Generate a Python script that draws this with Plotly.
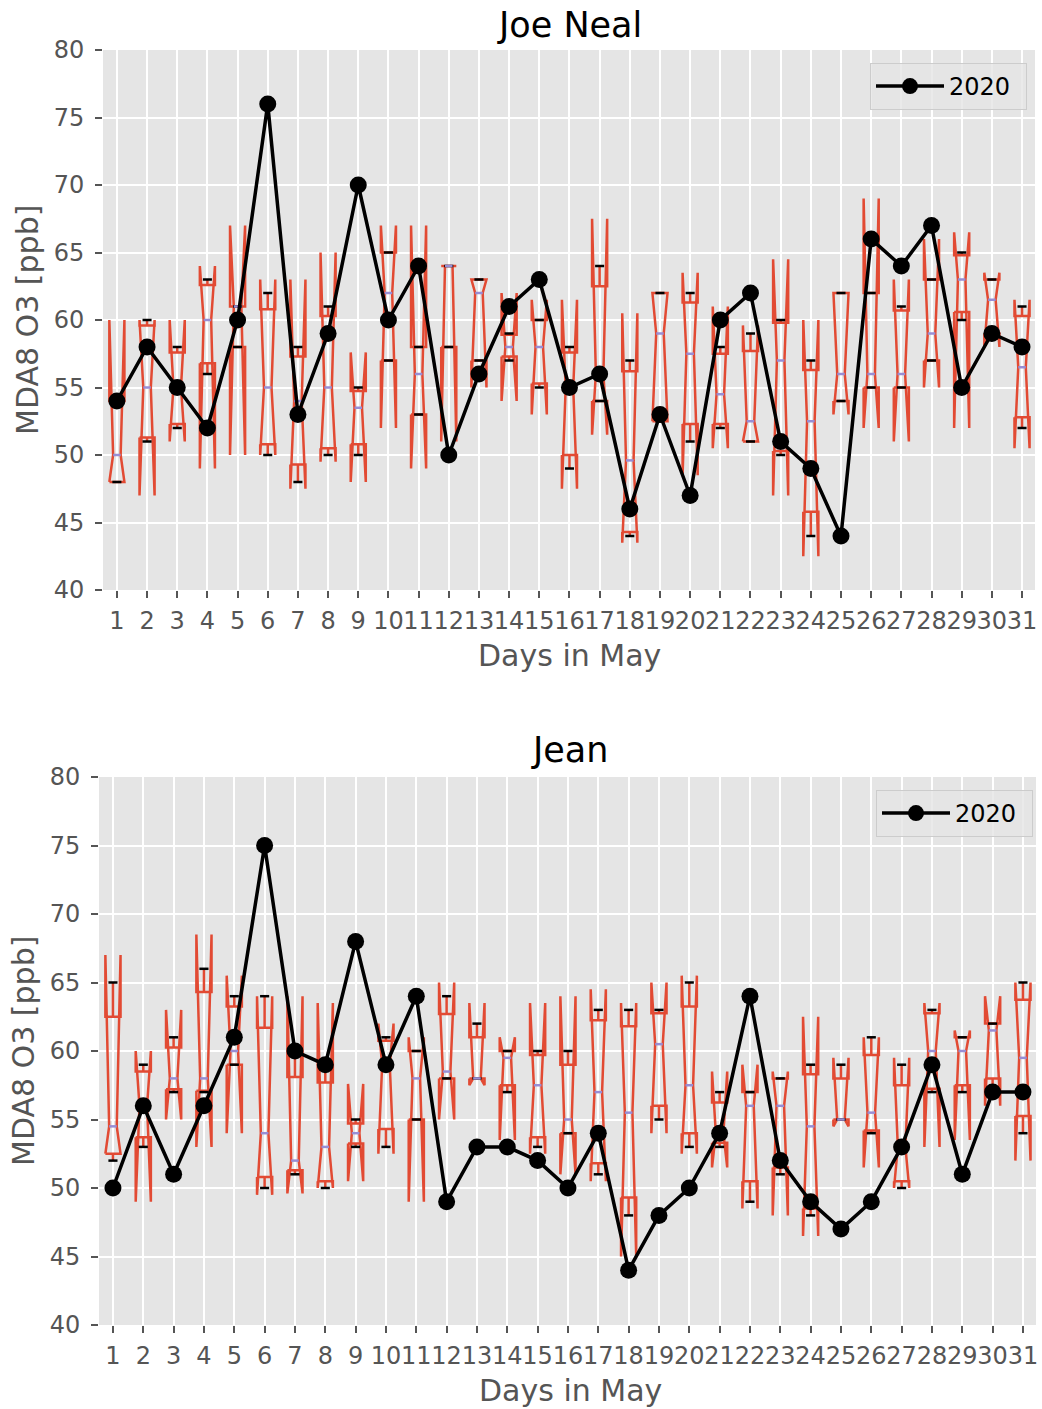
import plotly.graph_objects as go

W, H = 1042, 1409
days = list(range(1, 32))

# ---------------- Joe Neal (top panel) ----------------
jn_whislo = [48, 51, 52, 56, 58, 50, 48, 50, 50, 57, 53, 58, 57, 57, 55, 49, 54, 44, 52.5, 51, 52, 51, 50, 44, 54, 55, 55, 57, 60, 59, 52]
jn_q1     = [48, 51.3, 52.3, 56.8, 58, 50.8, 49.3, 50.5, 50.8, 57, 53, 58, 57, 57.3, 55.3, 50, 54, 44.3, 52.5, 52.3, 52.3, 51, 50.3, 45.8, 54, 55, 55, 57, 60.6, 59, 52.8]
jn_cilo   = [48, 47, 51, 49, 50, 50, 47.5, 49.5, 48, 52, 49, 51, 55, 54, 53, 47.5, 51.5, 43.5, 52.5, 48.5, 50.5, 51, 47, 42.5, 53, 52, 51, 55, 52, 58, 50.5]
jn_median = [50, 55, 55, 60, 61, 55, 54, 55, 53.5, 62, 56, 64, 62, 58, 58, 55, 56, 49.6, 59, 57.5, 54.5, 52.5, 57, 52.5, 56, 56, 56, 59, 63, 61.5, 56.5]
jn_cihi   = [60, 60, 60, 64, 67, 63, 63, 65, 57.6, 67, 67, 64, 63, 62, 61.5, 61.5, 67.5, 60.5, 62, 63.5, 61, 59.6, 64.5, 60, 62, 69, 63, 66, 66.5, 63.5, 61.5]
jn_q3     = [54, 59.6, 57.6, 62.6, 61, 60.8, 57.3, 60.3, 54.75, 65, 58, 64, 63, 58.9, 60, 57.6, 62.5, 56.2, 62, 61.3, 57.5, 57.7, 59.8, 56.3, 62, 62, 60.7, 63, 64.8, 63, 60.3]
jn_whishi = [54, 60, 58, 63, 61, 62, 58, 61, 55, 65, 58, 64, 63, 59, 60, 58, 64, 57, 62, 62, 58, 59, 60, 57, 62, 62, 61, 63, 65, 63, 61]
jn_2020   = [54, 58, 55, 52, 60, 76, 53, 59, 70, 60, 64, 50, 56, 61, 63, 55, 56, 46, 53, 47, 60, 62, 51, 49, 44, 66, 64, 67, 55, 59, 58]

# ---------------- Jean (bottom panel) ----------------
je_whislo = [52, 53, 57, 57, 59, 50, 51, 50, 53, 53, 55, 58, 58, 57, 53, 54, 51, 48, 55, 53, 53, 49, 51, 48, 55, 54, 50, 57, 57, 57, 54]
je_q1     = [52.5, 53.7, 57.2, 57.1, 59, 50.8, 51.3, 50.5, 53.25, 54.3, 55, 58, 58, 57.5, 53.7, 54, 51.8, 49.3, 56, 54, 53.3, 50.5, 51.5, 48.5, 55, 54.2, 50.5, 57.25, 57.5, 58, 55.25]
je_cilo   = [52.5, 49, 55, 53, 54, 49.5, 49.6, 50, 50.5, 52.5, 49, 55, 57.5, 53.5, 52.5, 51, 50.5, 45, 54, 52.5, 51.5, 48.5, 48, 46.5, 54.5, 51.5, 50, 53, 53.5, 56, 52]
je_median = [54.5, 56, 58, 58, 60, 54, 52, 53, 54, 59, 58, 58.5, 58, 59.5, 57.5, 55, 57, 55.5, 60.5, 57.5, 54, 56, 56, 54.5, 55, 55.5, 53, 60, 60, 61.5, 59.5]
je_cihi   = [67, 60, 63, 68.5, 65.5, 64, 64, 63.5, 57.6, 62, 61, 65, 63.5, 61, 63.5, 64, 64.5, 63.5, 65, 65.5, 58.5, 59, 58.5, 62.5, 59.5, 61, 59.5, 63.5, 61.5, 64, 65]
je_q3     = [62.5, 58.5, 60.25, 64.3, 63.25, 61.7, 58.1, 57.7, 54.7, 60.75, 60, 62.7, 61, 60, 59.7, 59, 62.25, 61.8, 62.75, 63.25, 56.25, 57, 58, 58.3, 58, 59.7, 57.5, 62.75, 61, 62, 63.75]
je_whishi = [65, 59, 61, 66, 64, 64, 60, 59, 55, 61, 60, 64, 62, 60, 60, 60, 63, 63, 63, 65, 57, 57, 58, 59, 59, 61, 59, 63, 61, 62, 65]
je_2020   = [50, 56, 51, 56, 61, 75, 60, 59, 68, 59, 64, 49, 53, 53, 52, 50, 54, 44, 48, 50, 54, 64, 52, 49, 47, 49, 53, 59, 51, 57, 57]

x_tick_labels = [str(d) for d in days]
y_ticks = [40, 45, 50, 55, 60, 65, 70, 75, 80]

BOX_RED = "#E24A33"
MED_COL = "#988ED5"
FONT = "DejaVu Sans"

fig = go.Figure()


def add_boxes(whislo, q1, cilo, med, cihi, q3, whishi, xa, ya):
    w = 0.5
    bx, by, wx, wy, cx, cy, mx, my = [], [], [], [], [], [], [], []
    for d, lo, a, cl, m, ch, b, hi in zip(days, whislo, q1, cilo, med, cihi, q3, whishi):
        L, R = d - w / 2, d + w / 2
        NL, NR = d - w / 4, d + w / 4
        bx += [L, R, R, NR, R, R, L, L, NL, L, L, None]
        by += [a, a, cl, m, ch, b, b, ch, m, cl, a, None]
        wx += [d, d, None, d, d, None]
        wy += [a, lo, None, b, hi, None]
        cw = 0.15
        cx += [d - cw, d + cw, None, d - cw, d + cw, None]
        cy += [lo, lo, None, hi, hi, None]
        mx += [NL, NR, None]
        my += [m, m, None]
    common = dict(xaxis=xa, yaxis=ya, mode="lines", showlegend=False, hoverinfo="skip")
    fig.add_trace(go.Scatter(x=wx, y=wy, line=dict(color=BOX_RED, width=2.5), **common))
    fig.add_trace(go.Scatter(x=bx, y=by, line=dict(color=BOX_RED, width=2.5), **common))
    fig.add_trace(go.Scatter(x=cx, y=cy, line=dict(color="black", width=2.5), **common))
    fig.add_trace(go.Scatter(x=mx, y=my, line=dict(color=MED_COL, width=2.5), **common))


add_boxes(jn_whislo, jn_q1, jn_cilo, jn_median, jn_cihi, jn_q3, jn_whishi, "x", "y")
fig.add_trace(go.Scatter(x=days, y=jn_2020, xaxis="x", yaxis="y", mode="lines+markers",
                         name="2020", legend="legend",
                         line=dict(color="black", width=3.5),
                         marker=dict(color="black", size=17)))

add_boxes(je_whislo, je_q1, je_cilo, je_median, je_cihi, je_q3, je_whishi, "x2", "y2")
fig.add_trace(go.Scatter(x=days, y=je_2020, xaxis="x2", yaxis="y2", mode="lines+markers",
                         name="2020", legend="legend2",
                         line=dict(color="black", width=3.5),
                         marker=dict(color="black", size=17)))


def px_x(p):
    return p / W


def px_y(p):
    return 1 - p / H


xaxis_common = dict(
    range=[0.54, 31.43], tickmode="array", tickvals=days, ticktext=x_tick_labels,
    showgrid=True, gridcolor="white", gridwidth=2, zeroline=False, showline=False,
    ticks="outside", ticklen=7, tickwidth=1.5, tickcolor="#555555", tickangle=0,
    tickfont=dict(family=FONT, size=24, color="#555555"), ticklabelstandoff=2,
    automargin=False,
)
yaxis_common = dict(
    range=[40, 80], tickmode="array", tickvals=y_ticks,
    showgrid=True, gridcolor="white", gridwidth=2, zeroline=False, showline=False,
    ticks="outside", ticklen=7, tickwidth=1.5, tickcolor="#555555",
    tickfont=dict(family=FONT, size=24, color="#555555"), ticklabelstandoff=6,
    automargin=False,
)

legend_common = dict(
    bgcolor="rgba(229,229,229,0.8)", bordercolor="#CCCCCC", borderwidth=1,
    font=dict(family=FONT, size=24, color="black"), itemwidth=68,
    orientation="h", entrywidth=72, entrywidthmode="pixels",
    xanchor="right", yanchor="top",
)

fig.update_layout(
    width=W, height=H, margin=dict(l=0, r=0, t=0, b=0, autoexpand=False),
    paper_bgcolor="white", plot_bgcolor="#E5E5E5",
    font=dict(family=FONT),
    xaxis=dict(domain=[px_x(103), px_x(1035)], anchor="y", **xaxis_common),
    yaxis=dict(domain=[px_y(590), px_y(50)], anchor="x", **yaxis_common),
    xaxis2=dict(domain=[px_x(99), px_x(1036)], anchor="y2", **xaxis_common),
    yaxis2=dict(domain=[px_y(1325), px_y(777)], anchor="x2", **yaxis_common),
    legend=dict(x=px_x(1027), y=px_y(63), **legend_common),
    legend2=dict(x=px_x(1033), y=px_y(790), **legend_common),
    showlegend=True,
)

annots = [
    dict(text="Joe Neal", x=px_x(569), y=px_y(25), font=dict(size=35, color="black")),
    dict(text="Jean", x=px_x(570), y=px_y(750), font=dict(size=35, color="black")),
    dict(text="Days in May", x=px_x(569), y=px_y(655), font=dict(size=30, color="#555555")),
    dict(text="Days in May", x=px_x(570), y=px_y(1390), font=dict(size=30, color="#555555")),
    dict(text="MDA8 O3 [ppb]", x=px_x(27), y=px_y(320), textangle=-90, font=dict(size=30, color="#555555")),
    dict(text="MDA8 O3 [ppb]", x=px_x(23), y=px_y(1051), textangle=-90, font=dict(size=30, color="#555555")),
]
for a in annots:
    a.update(xref="paper", yref="paper", showarrow=False, xanchor="center", yanchor="middle")
    a["font"]["family"] = FONT
    fig.add_annotation(**a)

fig.write_html(
    "out.html",
    config={"displayModeBar": False},
    post_script="document.body.style.margin='0';document.body.style.overflow='hidden';",
)
